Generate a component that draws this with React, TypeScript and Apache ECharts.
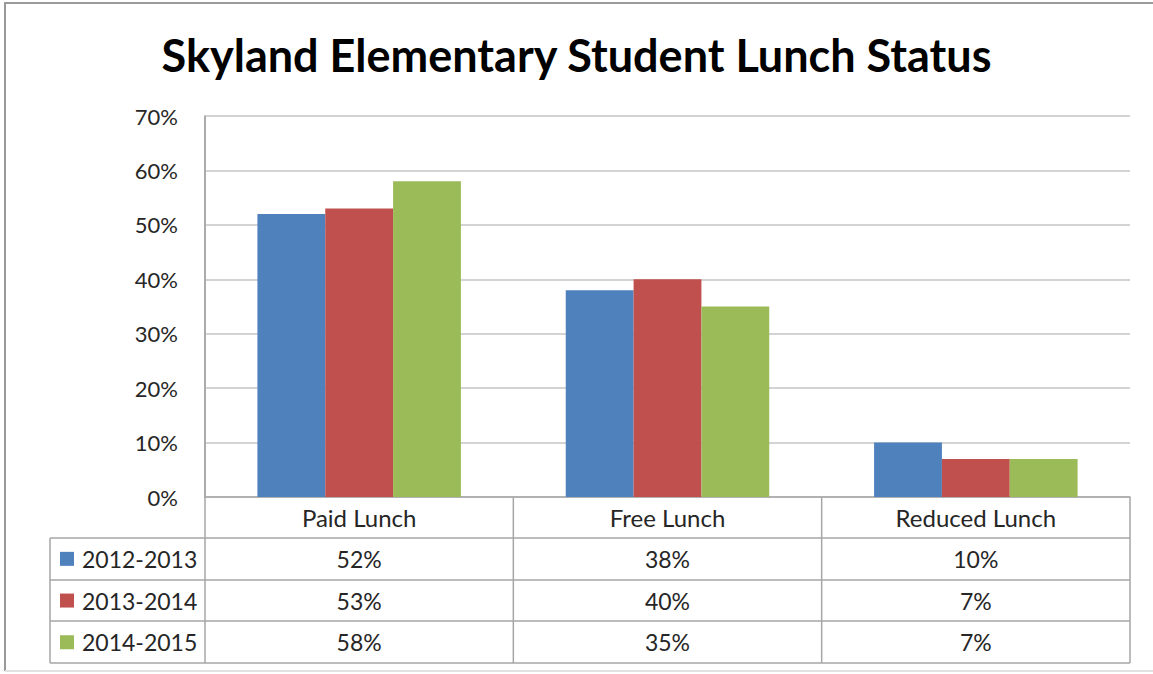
import React, { useEffect, useRef } from "react";
import * as echarts from "echarts";

const title = "Skyland Elementary Student Lunch Status";
const categories = ["Paid Lunch", "Free Lunch", "Reduced Lunch"];
const seriesNames = ["2012-2013", "2013-2014", "2014-2015"];
const values2012 = [52, 38, 10];
const values2013 = [53, 40, 7];
const values2014 = [58, 35, 7];
const seriesColors = ["#4F81BD", "#C0504D", "#9BBB59"];
const yTicks = { min: 0, max: 70, interval: 10 };

const FONT = "Lato";
const TEXT = "#262626";
const LINE = "#a6a6a6";

// layout (pixels)
const GL = 205, GR = 1130, GT = 116, GB = 497;
const ROW = [497, 538, 580, 621, 663];
const TABLE_LEFT = 50;

export default function App() {
  const ref = useRef<HTMLDivElement>(null);
  useEffect(() => {
    if (!ref.current) return;
    const chart = echarts.init(ref.current, null, { renderer: "svg" });
    const allValues = [values2012, values2013, values2014];
    const colW = (GR - GL) / categories.length;

    const graphics: any[] = [];
    // outer border (top, left) and faint bottom
    graphics.push({
      type: "polyline",
      shape: { points: [[1160, 3], [5, 3], [5, 671]] },
      style: { fill: "none", stroke: "#9a9a9a", lineWidth: 2 },
      silent: true,
    });
    graphics.push({
      type: "line",
      shape: { x1: 5, y1: 671, x2: 1160, y2: 671 },
      style: { stroke: "#e2e2e2", lineWidth: 2 },
      silent: true,
    });
    // table horizontal lines
    ROW.slice(1).forEach((y) => {
      graphics.push({
        type: "line",
        shape: { x1: TABLE_LEFT, y1: y, x2: GR, y2: y },
        style: { stroke: LINE, lineWidth: 1.5 },
        silent: true,
      });
    });
    // table vertical lines
    for (let i = 0; i <= categories.length; i++) {
      const x = GL + colW * i;
      graphics.push({
        type: "line",
        shape: { x1: x, y1: i === 0 ? GT : ROW[0], x2: x, y2: ROW[4] },
        style: { stroke: LINE, lineWidth: 1.5 },
        silent: true,
      });
    }
    graphics.push({
      type: "line",
      shape: { x1: TABLE_LEFT, y1: ROW[1], x2: TABLE_LEFT, y2: ROW[4] },
      style: { stroke: LINE, lineWidth: 1.5 },
      silent: true,
    });

    const tableAxes = allValues.map((vals, i) => ({
      type: "category",
      gridIndex: 0,
      position: "bottom",
      offset: ROW[i + 1] - ROW[0],
      data: vals.map((v) => v + "%"),
      axisLine: { show: false },
      axisTick: { show: false },
      splitLine: { show: false },
      axisLabel: {
        interval: 0,
        margin: 0,
        fontFamily: FONT,
        fontSize: 23,
        color: TEXT,
        lineHeight: ROW[i + 2] - ROW[i + 1],
        verticalAlign: "top",
      },
    }));

    chart.setOption({
      animation: false,
      backgroundColor: "#ffffff",
      title: {
        text: title,
        left: "center",
        top: 27,
        textStyle: { fontFamily: FONT, fontWeight: "bold", fontSize: 45, color: "#000" },
      },
      legend: {
        data: seriesNames,
        orient: "vertical",
        left: 60,
        top: ROW[1],
        itemWidth: 14,
        itemHeight: 14,
        itemGap: 0,
        icon: "rect",
        selectedMode: false,
        padding: 0,
        textStyle: { fontFamily: FONT, fontSize: 23, color: TEXT, lineHeight: 41.7, padding: [0, 0, 0, 3] },
      },
      grid: { left: GL, top: GT, width: GR - GL, height: GB - GT, containLabel: false },
      xAxis: [
        {
          type: "category",
          data: categories,
          axisLine: { show: true, lineStyle: { color: LINE, width: 1.5 } },
          axisTick: { show: false },
          axisLabel: {
            interval: 0,
            margin: 0,
            fontFamily: FONT,
            fontSize: 24,
            color: TEXT,
            lineHeight: ROW[1] - ROW[0],
            verticalAlign: "top",
          },
        },
        ...tableAxes,
      ],
      yAxis: {
        type: "value",
        min: yTicks.min,
        max: yTicks.max,
        interval: yTicks.interval,
        axisLine: { show: true, lineStyle: { color: LINE, width: 1.5 } },
        axisTick: { show: false },
        axisLabel: { formatter: "{value}%", fontFamily: FONT, fontSize: 22, color: TEXT, margin: 27 },
        splitLine: { show: true, lineStyle: { color: "#c4c4c4", width: 1.5 } },
      },
      series: allValues.map((vals, i) => ({
        name: seriesNames[i],
        type: "bar",
        xAxisIndex: 0,
        data: vals,
        barGap: 0,
        barCategoryGap: "34%",
        itemStyle: { color: seriesColors[i] },
      })),
      graphic: graphics,
    });
    return () => chart.dispose();
  }, []);
  return (
    <div
      ref={ref}
      style={{ position: "fixed", left: 0, top: 0, width: 1153, height: 674, background: "#fff" }}
    />
  );
}
